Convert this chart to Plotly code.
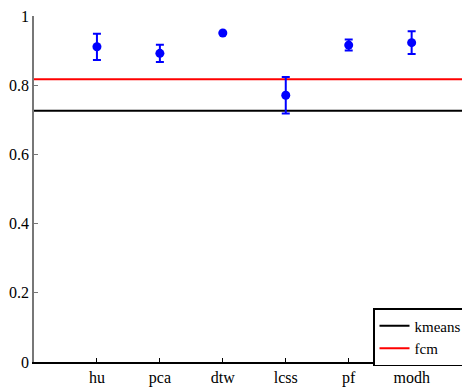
import plotly.graph_objects as go

methods = ["hu", "pca", "dtw", "lcss", "pf", "modh"]
method_pos = [1, 2, 3, 4, 5, 6]
scores = [0.911, 0.892, 0.951, 0.771, 0.916, 0.923]
errors = [0.038, 0.025, 0.0, 0.053, 0.016, 0.033]

baseline_names = ["kmeans", "fcm"]
baseline_values = [0.726, 0.817]
baseline_colors = ["black", "red"]
x_span = [0, 7]

yticks = [0, 0.2, 0.4, 0.6, 0.8, 1.0]
ytick_text = ["0", "0.2", "0.4", "0.6", "0.8", "1"]

SERIF = "Liberation Serif, Times New Roman, serif"

fig = go.Figure()
for name, val, col in zip(baseline_names, baseline_values, baseline_colors):
    fig.add_trace(go.Scatter(x=x_span, y=[val, val], mode="lines", name=name,
                             line=dict(color=col, width=2)))

fig.add_trace(go.Scatter(
    x=method_pos, y=scores, mode="markers", showlegend=False,
    marker=dict(color="blue", size=9, symbol="circle"),
    error_y=dict(type="data", array=errors, visible=True, color="blue",
                 thickness=2, width=4),
))

fig.update_layout(
    width=462, height=390,
    margin=dict(l=34, r=0, t=16, b=28, autoexpand=False),
    paper_bgcolor="white", plot_bgcolor="white",
    font=dict(family=SERIF, size=16, color="black"),
    legend=dict(xref="container", yref="container", x=373/462, y=(390-308)/390,
                xanchor="left", yanchor="top",
                bgcolor="white", bordercolor="black", borderwidth=1.5,
                font=dict(family=SERIF, size=15), itemwidth=30, tracegroupgap=0),
    xaxis=dict(range=[0, 6.8], tickmode="array", tickvals=method_pos, ticktext=methods,
               showgrid=False, zeroline=False, showline=True, linecolor="black",
               linewidth=1.5, ticks="inside", ticklen=4, tickcolor="black",
               tickfont=dict(family=SERIF, size=16)),
    yaxis=dict(range=[0, 1], tickmode="array", tickvals=yticks, ticktext=ytick_text,
               showgrid=False, zeroline=False, showline=True, linecolor="#777777",
               linewidth=1.5, ticks="inside", ticklen=4, tickcolor="#777777",
               tickfont=dict(family=SERIF, size=16)),
)

fig.write_html("out.html")
